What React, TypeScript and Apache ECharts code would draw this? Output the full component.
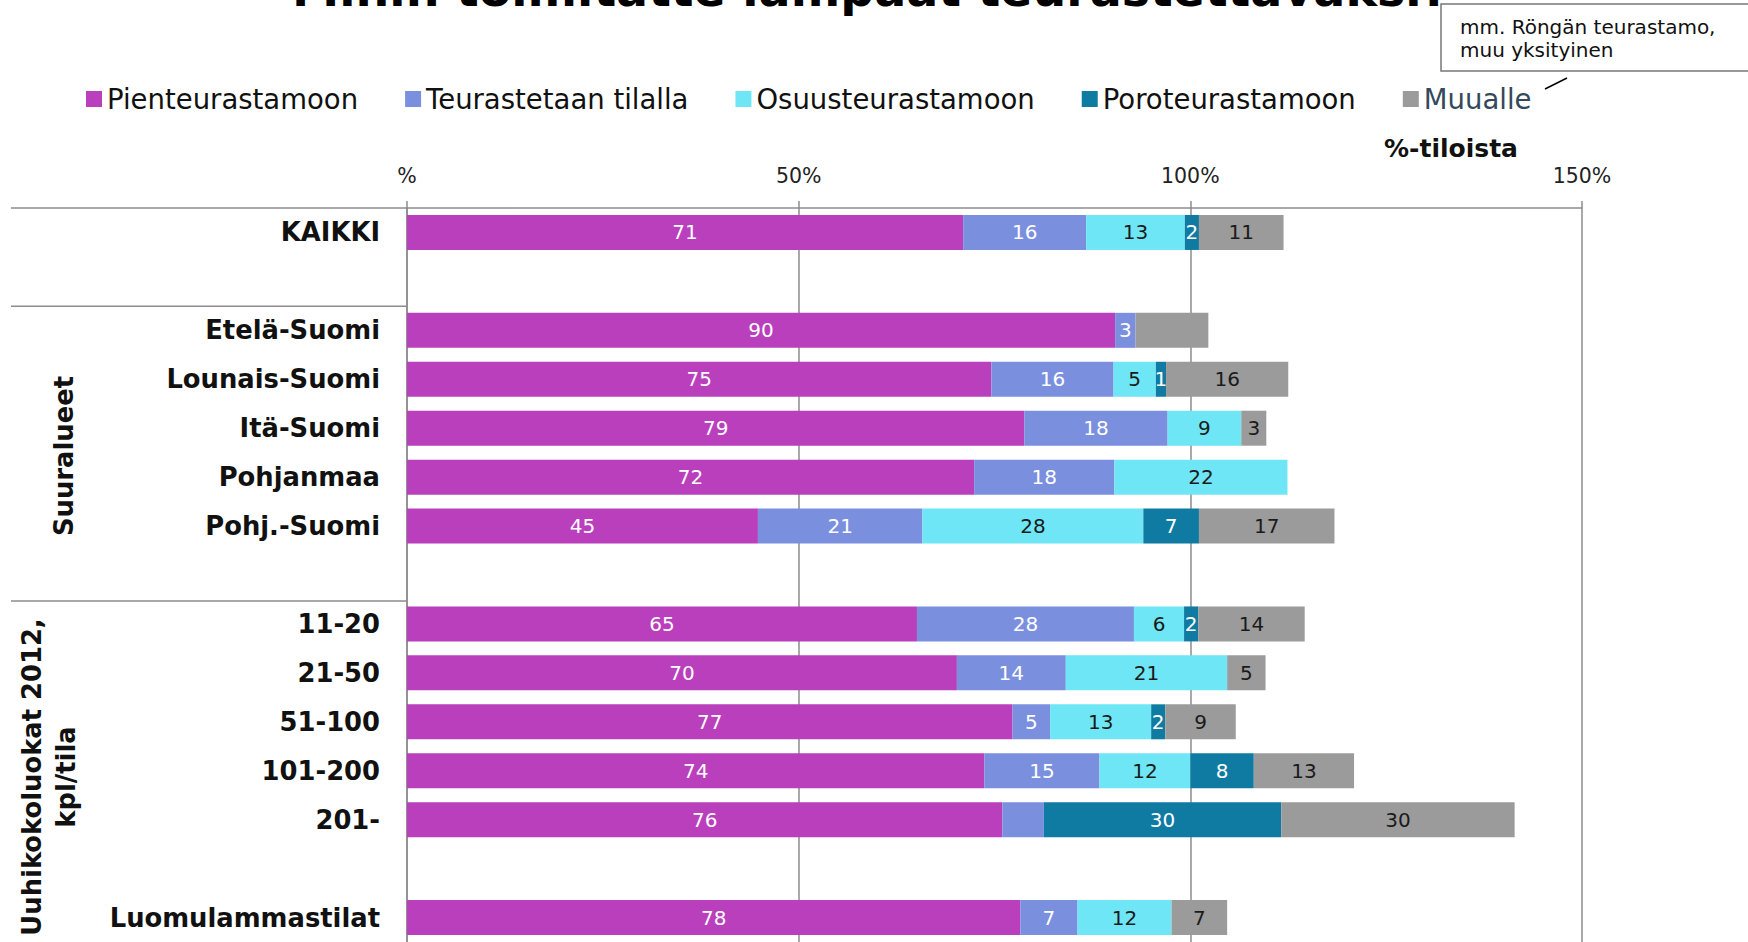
import React, { useEffect, useRef } from "react";
import * as echarts from "echarts";

const FONT = "'DejaVu Sans', Verdana, sans-serif";

const CATEGORIES = [
  "KAIKKI", "", "Etelä-Suomi", "Lounais-Suomi", "Itä-Suomi", "Pohjanmaa", "Pohj.-Suomi", "",
  "11-20", "21-50", "51-100", "101-200", "201-", "", "Luomulammastilat",
];

const SERIES_NAMES = ["Pienteurastamoon", "Teurastetaan tilalla", "Osuusteurastamoon", "Poroteurastamoon", "Muualle"];
const SERIES_COLORS = ["#BA3FBD", "#7B8FDF", "#6EE6F6", "#107BA2", "#9B9B9B"];
const LABEL_COLORS = ["#ffffff", "#ffffff", "#1a1a1a", "#ffffff", "#1a1a1a"];

const PIEN = [71.0, null, 90.4, 74.6, 78.8, 72.4, 44.8, null, 65.1, 70.2, 77.3, 73.7, 76.0, null, 78.3];
const TILA = [15.7, null, 2.6, 15.6, 18.3, 17.9, 21.0, null, 27.7, 13.9, 4.8, 14.7, 5.3, null, 7.3];
const OSUUS = [12.6, null, null, 5.4, 9.4, 22.1, 28.2, null, 6.4, 20.6, 12.9, 11.6, null, null, 12.0];
const PORO = [1.8, null, null, 1.3, null, null, 7.1, null, 1.8, null, 1.8, 8.1, 30.3, null, null];
const MUU = [10.8, null, 9.3, 15.6, 3.2, null, 17.3, null, 13.6, 4.9, 9.0, 12.8, 29.8, null, 7.1];
const SERIES_VALUES = [PIEN, TILA, OSUUS, PORO, MUU];

// segments whose value label is not shown in the original: [series index, category]
const HIDDEN_LABELS: [number, string][] = [
  [4, "Etelä-Suomi"],
  [1, "201-"],
];

const X_MIN = 0;
const X_MAX = 150;
const X_INTERVAL = 50;

const TITLE = "Mihin toimitatte lampaat teurastettavaksi?";
const AXIS_TITLE = "%-tiloista";
const NOTE = "mm. Röngän teurastamo,\nmuu yksityinen";
const GROUP_1 = "Suuralueet";
const GROUP_2 = "Uuhikokoluokat 2012,\nkpl/tila";

const GRID_LEFT = 407;
const GRID_TOP = 208;
const GRID_WIDTH = 1175;
const GRID_HEIGHT = 737;
const BAND = GRID_HEIGHT / CATEGORIES.length;
const LINE_COLOR = "#8c8c8c";

export default function App() {
  const ref = useRef<HTMLDivElement>(null);

  useEffect(() => {
    if (!ref.current) return;
    const chart = echarts.init(ref.current, undefined, { renderer: "svg" });

    const series = SERIES_NAMES.map((name, si) => ({
      name,
      type: "bar",
      stack: "total",
      barWidth: 35,
      itemStyle: { color: SERIES_COLORS[si] },
      label: {
        show: true,
        position: "inside",
        color: LABEL_COLORS[si],
        fontFamily: FONT,
        fontSize: 20,
        formatter: (p: any) => (p.value == null ? "" : String(Math.round(p.value))),
      },
      data: SERIES_VALUES[si].map((v, i) => {
        const hidden = HIDDEN_LABELS.some(([s, c]) => s === si && c === CATEGORIES[i]);
        return hidden ? { value: v, label: { show: false } } : v;
      }),
    }));

    const sep1 = GRID_TOP + 2 * BAND;
    const sep2 = GRID_TOP + 8 * BAND;

    chart.setOption({
      animation: false,
      textStyle: { fontFamily: FONT },
      legend: {
        left: 86,
        top: 85,
        padding: 0,
        icon: "rect",
        itemWidth: 16,
        itemHeight: 16,
        itemGap: 47,
        textStyle: { fontFamily: FONT, fontSize: 27.5, color: "#111" },
        data: SERIES_NAMES.map((n, i) =>
          i === 4 ? { name: n, textStyle: { color: "#34495a" } } : { name: n }
        ),
      },
      grid: { left: GRID_LEFT, top: GRID_TOP, width: GRID_WIDTH, height: GRID_HEIGHT },
      xAxis: {
        type: "value",
        position: "top",
        min: X_MIN,
        max: X_MAX,
        interval: X_INTERVAL,
        axisLine: { show: true, lineStyle: { color: LINE_COLOR, width: 1.5 } },
        axisTick: { show: true, length: 7, lineStyle: { color: LINE_COLOR, width: 1.5 } },
        splitLine: { show: true, lineStyle: { color: LINE_COLOR, width: 1.5 } },
        axisLabel: {
          margin: 22,
          color: "#222",
          fontFamily: FONT,
          fontSize: 20.5,
          formatter: (v: number) => (v === 0 ? "%" : v + "%"),
        },
      },
      yAxis: {
        type: "category",
        inverse: true,
        data: CATEGORIES,
        axisLine: { show: true, lineStyle: { color: LINE_COLOR, width: 1.5 } },
        axisTick: { show: false },
        axisLabel: {
          margin: 27,
          color: "#111",
          fontFamily: FONT,
          fontWeight: "bold",
          fontSize: 25.8,
        },
      },
      series,
      graphic: [
        {
          type: "text",
          x: 292,
          y: -11,
          z: 1,
          style: {
            text: TITLE,
            fontFamily: FONT,
            fontWeight: "bold",
            fontSize: 47.5,
            fill: "#000",
            align: "left",
            textAlign: "left",
            verticalAlign: "middle",
            textVerticalAlign: "middle",
          },
        },
        {
          type: "line",
          shape: { x1: 11, y1: GRID_TOP, x2: GRID_LEFT, y2: GRID_TOP },
          style: { stroke: LINE_COLOR, lineWidth: 1.5 },
        },
        {
          type: "line",
          shape: { x1: 11, y1: sep1, x2: GRID_LEFT, y2: sep1 },
          style: { stroke: LINE_COLOR, lineWidth: 1.5 },
        },
        {
          type: "line",
          shape: { x1: 11, y1: sep2, x2: GRID_LEFT, y2: sep2 },
          style: { stroke: LINE_COLOR, lineWidth: 1.5 },
        },
        {
          type: "text",
          x: 64,
          y: 456,
          rotation: Math.PI / 2,
          style: {
            text: GROUP_1,
            fontFamily: FONT,
            fontWeight: "bold",
            fontSize: 25.8,
            fill: "#111",
            align: "center",
            textAlign: "center",
            verticalAlign: "middle",
            textVerticalAlign: "middle",
          },
        },
        {
          type: "text",
          x: 49,
          y: 777,
          rotation: Math.PI / 2,
          style: {
            text: GROUP_2,
            fontFamily: FONT,
            fontWeight: "bold",
            fontSize: 25.8,
            lineHeight: 34,
            fill: "#111",
            align: "center",
            textAlign: "center",
            verticalAlign: "middle",
            textVerticalAlign: "middle",
          },
        },
        {
          type: "text",
          x: 1451,
          y: 148,
          style: {
            text: AXIS_TITLE,
            fontFamily: FONT,
            fontWeight: "bold",
            fontSize: 25,
            fill: "#111",
            align: "center",
            textAlign: "center",
            verticalAlign: "middle",
            textVerticalAlign: "middle",
          },
        },
        {
          type: "rect",
          z: 100,
          shape: { x: 1441, y: 4, width: 400, height: 67 },
          style: { fill: "#fff", stroke: "#777", lineWidth: 1.5 },
        },
        {
          type: "text",
          z: 101,
          x: 1460,
          y: 15,
          style: {
            text: NOTE,
            fontFamily: FONT,
            fontSize: 20,
            lineHeight: 23,
            fill: "#111",
            align: "left",
            textAlign: "left",
            verticalAlign: "top",
            textVerticalAlign: "top",
          },
        },
        {
          type: "line",
          z: 101,
          shape: { x1: 1545, y1: 89, x2: 1567, y2: 78 },
          style: { stroke: "#000", lineWidth: 1.5 },
        },
      ],
    });

    return () => chart.dispose();
  }, []);

  return (
    <div
      ref={ref}
      style={{ position: "absolute", left: 0, top: 0, width: 1748, height: 942, background: "#fff" }}
    />
  );
}
